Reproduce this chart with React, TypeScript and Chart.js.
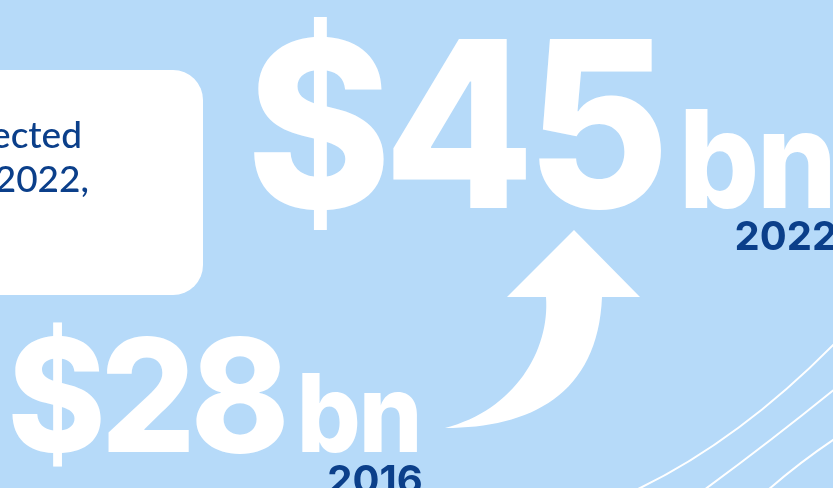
import React, { useEffect, useRef } from "react";
import { Chart, registerables } from "chart.js";

Chart.register(...registerables);

// ---- data ----
const years = [2016, 2022];
const values = [28, 45];
const currency = "$";
const unit = "bn";
const noteLines = ["projected", "by 2022,"];

// ---- styles ----
const W = 833;
const H = 488;
const BG = "rgb(182,218,249)";
const NAVY = "#0b3f8a";
const WHITE = "#ffffff";
const FONT = "Inter, 'Open Sans', 'DejaVu Sans', sans-serif";
const NOTE_FONT = "Lato, 'Open Sans', sans-serif";
const valueFontPx = [158, 232];
const unitFontPx = [108, 136];
const unitGap = [7, 9];
const valueScaleX = 0.945;
const valueSpacingEm = -0.035;
const unitScaleX = 0.93;
const unitSpacingEm = -0.02;
const yearFontPx = 40;
const yearDrop = 42;

function drawSquashed(
  ctx: CanvasRenderingContext2D,
  text: string,
  x: number,
  y: number,
  sx: number,
  spacingPx: number
): number {
  (ctx as any).letterSpacing = "0px";
  const w0 = ctx.measureText(text).width;
  const w = (w0 + spacingPx * (text.length - 1)) * sx;
  ctx.save();
  ctx.translate(x, y);
  ctx.scale(sx, 1);
  (ctx as any).letterSpacing = `${spacingPx}px`;
  ctx.fillText(text, 0, 0);
  ctx.restore();
  (ctx as any).letterSpacing = "0px";
  return w;
}

const infographicPlugin = {
  id: "infographic",
  beforeDraw(chart: any) {
    const ctx = chart.ctx as CanvasRenderingContext2D;
    ctx.save();
    ctx.fillStyle = BG;
    ctx.fillRect(0, 0, W, H);

    // white note box
    ctx.fillStyle = WHITE;
    ctx.beginPath();
    (ctx as any).roundRect(-40, 70, 243, 225, 30);
    ctx.fill();

    ctx.fillStyle = NAVY;
    ctx.font = `500 37px ${NOTE_FONT}`;
    ctx.textAlign = "right";
    ctx.textBaseline = "alphabetic";
    ctx.fillText(noteLines[0], 82, 148);
    ctx.fillText(noteLines[1], 89, 192);

    // decorative curves
    ctx.strokeStyle = WHITE;
    ctx.lineWidth = 2;
    ctx.beginPath();
    ctx.moveTo(636, 490);
    ctx.quadraticCurveTo(740, 440, 836, 342);
    ctx.stroke();
    ctx.beginPath();
    ctx.moveTo(704, 490);
    ctx.quadraticCurveTo(772, 440, 836, 388);
    ctx.stroke();
    ctx.beginPath();
    ctx.moveTo(768, 490);
    ctx.quadraticCurveTo(800, 462, 836, 438);
    ctx.stroke();
    ctx.restore();
  },
  afterDatasetsDraw(chart: any) {
    const ctx = chart.ctx as CanvasRenderingContext2D;
    const meta = chart.getDatasetMeta(0);
    ctx.save();

    // arrow
    ctx.fillStyle = WHITE;
    ctx.beginPath();
    ctx.moveTo(445, 428);
    ctx.bezierCurveTo(530, 428, 598, 395, 602, 297);
    ctx.lineTo(640, 297);
    ctx.lineTo(574, 230);
    ctx.lineTo(507, 297);
    ctx.lineTo(546, 297);
    ctx.bezierCurveTo(550, 350, 515, 410, 445, 428);
    ctx.closePath();
    ctx.fill();

    ctx.textBaseline = "alphabetic";
    ctx.textAlign = "left";
    meta.data.forEach((pt: any, i: number) => {
      const x = pt.x;
      const y = pt.y;
      ctx.fillStyle = WHITE;
      ctx.font = `800 ${valueFontPx[i]}px ${FONT}`;
      const label = currency + values[i];
      const lm = ctx.measureText(label);
      const lx = x + lm.actualBoundingBoxLeft * valueScaleX;
      const lw = drawSquashed(ctx, label, lx, y, valueScaleX, valueSpacingEm * valueFontPx[i]);
      const bx = lx + lw + unitGap[i];
      ctx.font = `800 ${unitFontPx[i]}px ${FONT}`;
      const bw = drawSquashed(ctx, unit, bx, y, unitScaleX, unitSpacingEm * unitFontPx[i]);
      ctx.fillStyle = NAVY;
      ctx.textAlign = "right";
      ctx.font = `700 ${yearFontPx}px ${FONT}`;
      ctx.fillText(String(years[i]), bx + bw, y + yearDrop);
      ctx.textAlign = "left";
    });
    ctx.restore();
  },
};

export default function App() {
  const ref = useRef<HTMLCanvasElement>(null);
  useEffect(() => {
    document.body.style.margin = "0";
    const chart = new Chart(ref.current as HTMLCanvasElement, {
      type: "scatter",
      data: {
        datasets: [
          {
            data: years.map((yr, i) => ({ x: yr, y: values[i] })),
            pointRadius: 0,
            showLine: false,
          },
        ],
      },
      options: {
        responsive: false,
        animation: false,
        events: [],
        layout: { padding: 0 },
        plugins: { legend: { display: false }, tooltip: { enabled: false } },
        scales: {
          x: { type: "linear", display: false, min: 2015.7025, max: 2036.355 },
          y: { type: "linear", display: false, min: 25.49, max: 59.49 },
        },
      },
      plugins: [infographicPlugin],
    } as any);
    return () => chart.destroy();
  }, []);
  return <canvas ref={ref} width={W} height={H} style={{ display: "block" }} />;
}
